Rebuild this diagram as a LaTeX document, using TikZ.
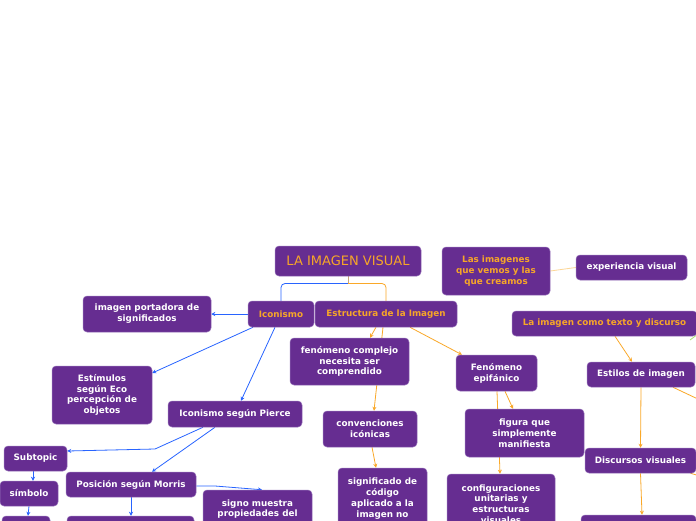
\documentclass[tikz,border=0pt]{standalone}
\usepackage{fontspec}
\setmainfont{DejaVu Sans}
\usetikzlibrary{arrows.meta,backgrounds}
\definecolor{purp}{RGB}{102,45,145}
\definecolor{purpedge}{RGB}{150,112,185}
\definecolor{orangetxt}{RGB}{247,166,40}
\definecolor{blueln}{RGB}{40,100,255}
\definecolor{orangeln}{RGB}{250,168,40}
\definecolor{paleorange}{RGB}{252,214,150}
\definecolor{tanln}{RGB}{200,165,125}
\definecolor{greenln}{RGB}{170,225,110}
\tikzset{
  mbox/.style={draw=purpedge, line width=0.5pt, fill=purp, rounded corners=4pt, text=white,
    font=\fontsize{8.8}{10.8}\selectfont\bfseries, align=center, inner sep=0pt},
  otext/.style={text=orangetxt},
  bline/.style={draw=blueln, line width=0.8pt},
  oline/.style={draw=orangeln, line width=0.8pt},
  bl/.style={bline, -{Stealth[length=4pt,width=4pt]}},
  ol/.style={oline, -{Stealth[length=4pt,width=4pt]}},
}
\begin{document}
\begin{tikzpicture}[x=1pt,y=-1pt]
\useasboundingbox (0,0) rectangle (696,520);
\clip (0,0) rectangle (696,520);
% nodes
\node[mbox, otext, font=\fontsize{13}{15}\selectfont, minimum width=146pt, minimum height=30pt] (root) at (348,261) {LA IMAGEN VISUAL};
\node[mbox, otext, minimum width=66pt, minimum height=26pt] (icon) at (281,314) {Iconismo};
\node[mbox, otext, minimum width=142pt, minimum height=26pt] (estr) at (386,314) {Estructura de la Imagen};
\node[mbox, otext, minimum width=108pt, minimum height=48pt] (las) at (496,271) {Las imagenes\\que vemos y las\\que creamos};
\node[mbox, minimum width=111pt, minimum height=25pt] (exp) at (631.5,267.5) {experiencia visual};
\node[mbox, otext, minimum width=185pt, minimum height=25pt] (texto) at (604.5,323.5) {La imagen como texto y discurso};
\node[mbox, minimum width=128pt, minimum height=36pt] (port) at (147,314) {imagen portadora de\\significados};
\node[mbox, minimum width=100pt, minimum height=58pt] (eco) at (102,395) {Estímulos\\según Eco\\percepción de\\objetos};
\node[mbox, minimum width=134pt, minimum height=26pt] (pierce) at (235,414) {Iconismo según Pierce};
\node[mbox, minimum width=119pt, minimum height=47pt] (compl) at (349.5,361.5) {fenómeno complejo\\necesita ser\\comprendido};
\node[mbox, minimum width=81pt, minimum height=36pt] (epif) at (496.5,373) {Fenómeno\\epifánico};
\node[mbox, minimum width=94pt, minimum height=36pt] (conv) at (370,429) {convenciones\\icónicas};
\node[mbox, minimum width=119pt, minimum height=48pt] (fig) at (524.5,433) {figura que\\simplemente\\manifiesta};
\node[mbox, minimum width=108pt, minimum height=25pt] (estil) at (641,374.5) {Estilos de imagen};
\node[mbox, minimum width=111pt, minimum height=25pt] (disc) at (640.5,460.5) {Discursos visuales};
\node[mbox, minimum width=63pt, minimum height=25pt] (subt) at (35.5,458.5) {Subtopic};
\node[mbox, minimum width=58pt, minimum height=25pt] (simb) at (29,493.5) {símbolo};
\node[mbox, minimum width=130pt, minimum height=25pt] (morr) at (131,484.5) {Posición según Morris};
\node[mbox, minimum width=109pt, minimum height=38pt] (signo) at (257.5,509) {signo muestra\\propiedades del};
\node[mbox, minimum width=89pt, minimum height=61pt] (sign) at (382.5,498.5) {significado de\\código\\aplicado a la\\imagen no};
\node[mbox, minimum width=108pt, minimum height=60pt] (conf) at (501,504) {configuraciones\\unitarias y\\estructuras\\visuales};
\node[mbox, minimum width=127pt, minimum height=30pt] (bmor) at (130.5,531) {};
\node[mbox, minimum width=48pt, minimum height=30pt] (bsim) at (26,531) {};
\node[mbox, minimum width=115pt, minimum height=30pt] (bdis) at (638.5,530) {};
% free ends
\coordinate (junc) at (348,283.5);
\coordinate (bend1) at (155,449);
\coordinate (bend2) at (215,486);
\coordinate (offA) at (700,400);
\coordinate (offB) at (700,476);
\coordinate (g1) at (690,340);
\coordinate (g2) at (698,334);
% connectors
\begin{scope}[on background layer]
\clip (0,0) rectangle (696,520);
\fill[white] (0,0) rectangle (696,520);
\draw[tanln, line width=0.8pt] (root.south) -- (junc);
\draw[bline, rounded corners=4pt] (junc) -| (icon.north);
\draw[oline, rounded corners=4pt] (junc) -| (estr.north);
\draw[bl] (icon.west) -- (port.east);
\draw[bl] ([xshift=-28pt]icon.south) -- ([yshift=22pt]eco.east);
\draw[bl] ([xshift=-6pt]icon.south) -- ([xshift=6pt]pierce.north);
\draw[bl] ([xshift=-32pt]pierce.south) -- (bend1) -- ([yshift=7.5pt]subt.east);
\draw[bl] ([xshift=-20pt]pierce.south) -- ([xshift=21pt]morr.north);
\draw[bl] ([xshift=-2.5pt]subt.south) -- ([xshift=4pt]simb.north);
\draw[bl] (simb.south) -- ([xshift=2pt]bsim.north);
\draw[bl] (morr.south) -- ([xshift=0.5pt]bmor.north);
\draw[bl] ([yshift=-1.5pt]morr.east) -- (bend2) -- ([xshift=4.5pt]signo.north);
\draw[ol] ([xshift=-10pt]estr.south) -- ([xshift=20.5pt]compl.north);
\draw[ol] ([xshift=-3pt]estr.south) -- ([xshift=4pt]conv.north);
\draw[ol] ([xshift=24pt]estr.south) -- ([xshift=-34.5pt]epif.north);
\draw[ol] ([xshift=8.5pt]epif.south) -- ([xshift=-11.5pt]fig.north);
\draw[ol] ([xshift=0.5pt]epif.south) -- ([xshift=-1pt]conf.north);
\draw[ol] ([xshift=2pt]conv.south) -- ([xshift=-6.5pt]sign.north);
\draw[paleorange, line width=0.8pt] (las.east) -- (exp.west);
\draw[ol] ([xshift=10.5pt]texto.south) -- ([xshift=-9pt]estil.north);
\draw[ol] (estil.south) -- (disc.north);
\draw[ol] (disc.south) -- ([xshift=3.5pt]bdis.north);
\draw[oline] ([xshift=32pt]estil.south) -- (offA);
\draw[oline] ([xshift=50pt]disc.south) -- (offB);
\draw[greenln, line width=0.8pt] (g1) -- (g2);
\end{scope}
\end{tikzpicture}
\end{document}
